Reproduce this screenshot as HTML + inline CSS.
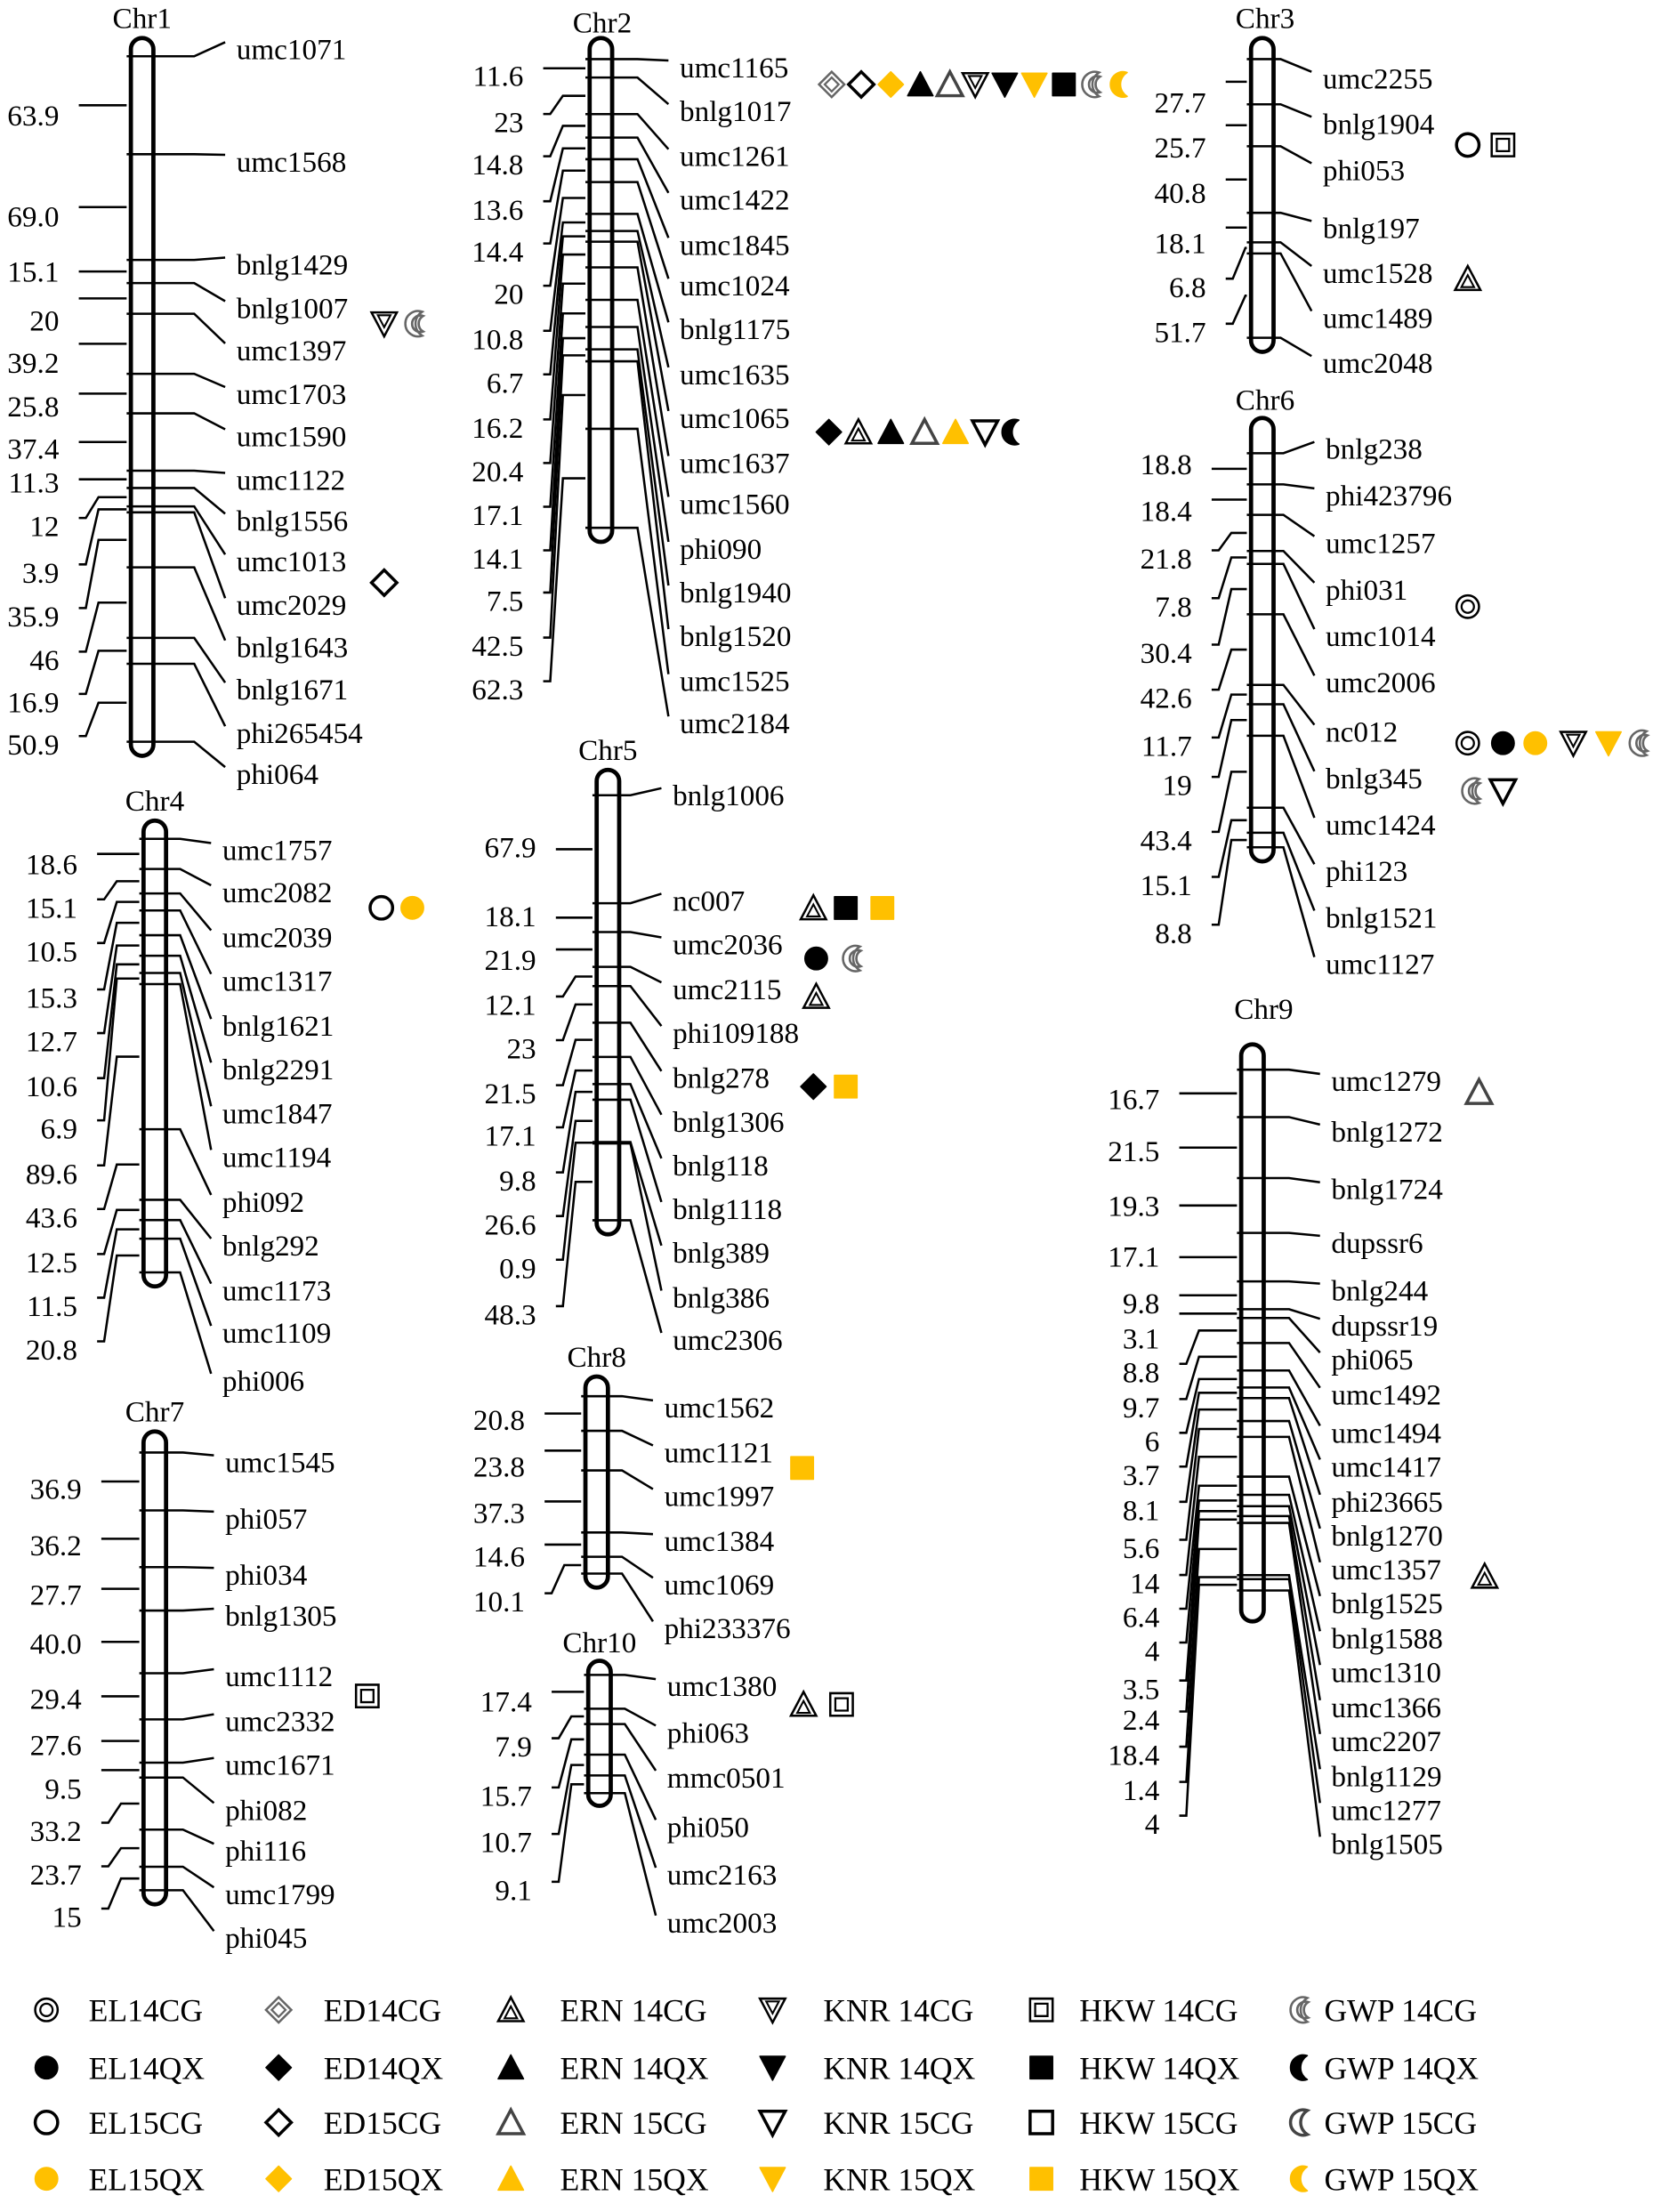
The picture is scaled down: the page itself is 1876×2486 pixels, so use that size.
<!DOCTYPE html>
<html><head><meta charset="utf-8"><style>
html,body{margin:0;padding:0;background:#fff;}
svg{display:block;}
text{font-family:"Liberation Serif",serif;fill:#000;}
</style></head><body>
<svg id="s" xmlns="http://www.w3.org/2000/svg" width="1876" height="2486" viewBox="0 0 1186 1571.6" preserveAspectRatio="none"></svg>
<script>
const S=document.getElementById('s');const NS='http://www.w3.org/2000/svg';
function el(t,a,p){const e=document.createElementNS(NS,t);for(const k in a)e.setAttribute(k,a[k]);(p||S).appendChild(e);return e;}
function txt(x,y,s,sz,anchor){const e=el('text',{x:x,y:y,'font-size':sz||21,'text-anchor':anchor||'start'});e.textContent=s;return e;}
const chrs=[
{n:'Chr1',cx:101,top:27,bot:537,ty:20,tx:101,f:40,l:527,lx:168,dx:42,
 m:['umc1071','umc1568','bnlg1429','bnlg1007','umc1397','umc1703','umc1590','umc1122','bnlg1556','umc1013','umc2029','bnlg1643','bnlg1671','phi265454','phi064'],
 my:[35,115,188,219,249,280,310,341,370,399,430,460,490,521,550],
 d:['63.9','69.0','15.1','20','39.2','25.8','37.4','11.3','12','3.9','35.9','46','16.9','50.9'],
 dy:[82,154,193,228,258,289,319,343,374,407,438,469,499,529]},
{n:'Chr2',cx:427,top:27,bot:385,ty:23,tx:428,f:42,l:375,lx:483,dx:372,
 m:['umc1165','bnlg1017','umc1261','umc1422','umc1845','umc1024','bnlg1175','umc1635','umc1065','umc1637','umc1560','phi090','bnlg1940','bnlg1520','umc1525','umc2184'],
 my:[48,79,111,142,174,203,234,266,297,329,358,390,421,452,484,514],
 d:['11.6','23','14.8','13.6','14.4','20','10.8','6.7','16.2','20.4','17.1','14.1','7.5','42.5','62.3'],
 dy:[54,87,117,149,179,209,241,272,304,335,366,397,427,459,490]},
{n:'Chr3',cx:897,top:27,bot:250,ty:20,tx:899,f:42,l:240,lx:940,dx:857,
 m:['umc2255','bnlg1904','phi053','bnlg197','umc1528','umc1489','umc2048'],
 my:[56,88,121,162,194,226,258],
 d:['27.7','25.7','40.8','18.1','6.8','51.7'],dy:[73,105,137,173,204,236]},
{n:'Chr4',cx:110,top:583,bot:914,ty:576,tx:110,f:596,l:904,lx:158,dx:55,
 m:['umc1757','umc2082','umc2039','umc1317','bnlg1621','bnlg2291','umc1847','umc1194','phi092','bnlg292','umc1173','umc1109','phi006'],
 my:[604,634,666,697,729,760,791,822,854,885,917,947,981],
 d:['18.6','15.1','10.5','15.3','12.7','10.6','6.9','89.6','43.6','12.5','11.5','20.8'],
 dy:[614,645,676,709,740,772,802,834,865,897,928,959]},
{n:'Chr5',cx:432,top:547,bot:877,ty:540,tx:432,f:565,l:867,lx:478,dx:381,
 m:['bnlg1006','nc007','umc2036','umc2115','phi109188','bnlg278','bnlg1306','bnlg118','bnlg1118','bnlg389','bnlg386','umc2306'],
 my:[565,640,671,703,734,766,797,828,859,890,922,952],
 d:['67.9','18.1','21.9','12.1','23','21.5','17.1','9.8','26.6','0.9','48.3'],
 dy:[602,651,682,714,745,777,807,839,870,901,934]},
{n:'Chr6',cx:897,top:297,bot:612,ty:291,tx:899,f:322,l:602,lx:942,dx:847,
 m:['bnlg238','phi423796','umc1257','phi031','umc1014','umc2006','nc012','bnlg345','umc1424','phi123','bnlg1521','umc1127'],
 my:[319,352,386,419,452,485,520,553,586,619,652,685],
 d:['18.8','18.4','21.8','7.8','30.4','42.6','11.7','19','43.4','15.1','8.8'],
 dy:[330,363,397,431,464,496,530,558,597,629,663]},
{n:'Chr7',cx:110,top:1017,bot:1353,ty:1010,tx:110,f:1032,l:1343,lx:160,dx:58,
 m:['umc1545','phi057','phi034','bnlg1305','umc1112','umc2332','umc1671','phi082','phi116','umc1799','phi045'],
 my:[1039,1079,1119,1148,1191,1223,1254,1286,1315,1346,1377],
 d:['36.9','36.2','27.7','40.0','29.4','27.6','9.5','33.2','23.7','15'],
 dy:[1058,1098,1133,1168,1207,1240,1271,1301,1332,1362]},
{n:'Chr8',cx:424,top:978,bot:1128,ty:971,tx:424,f:992,l:1118,lx:472,dx:373,
 m:['umc1562','umc1121','umc1997','umc1384','umc1069','phi233376'],
 my:[1000,1032,1063,1095,1126,1157],
 d:['20.8','23.8','37.3','14.6','10.1'],dy:[1009,1042,1075,1106,1138]},
{n:'Chr10',cx:426,top:1180,bot:1283,ty:1174,tx:426,f:1190,l:1274,lx:474,dx:378,
 m:['umc1380','phi063','mmc0501','phi050','umc2163','umc2003'],
 my:[1198,1231,1263,1298,1332,1366],
 d:['17.4','7.9','15.7','10.7','9.1'],dy:[1209,1241,1276,1309,1343]},
{n:'Chr9',cx:890,top:742,bot:1152,ty:724,tx:898,f:760,l:1130,lx:946,dx:824,
 m:['umc1279','bnlg1272','bnlg1724','dupssr6','bnlg244','dupssr19','phi065','umc1492','umc1494','umc1417','phi23665','bnlg1270','umc1357','bnlg1525','bnlg1588','umc1310','umc1366','umc2207','bnlg1129','umc1277','bnlg1505'],
 my:[768,804,845,883,917,942,966,991,1018,1042,1067,1091,1115,1139,1164,1188,1213,1237,1262,1286,1310],
 d:['16.7','21.5','19.3','17.1','9.8','3.1','8.8','9.7','6','3.7','8.1','5.6','14','6.4','4','3.5','2.4','18.4','1.4','4'],
 dy:[781,818,857,893,926,951,975,1000,1024,1048,1073,1100,1125,1149,1173,1200,1222,1247,1272,1296]}
];
const LW=1.6;
chrs.forEach(c=>{
  const vals=c.d.map(parseFloat);const tot=vals.reduce((a,b)=>a+b,0);
  const cy=[c.f];let acc=0;vals.forEach(v=>{acc+=v;cy.push(c.f+(c.l-c.f)*acc/tot);});
  el('rect',{x:c.cx-8,y:c.top,width:16,height:c.bot-c.top,rx:8,fill:'#fff',stroke:'#000','stroke-width':3});
  txt(c.tx,c.ty,c.n,21,'middle');
  c.m.forEach((nm,i)=>{
    const y=cy[i],ly=c.my[i]-5;
    const bx=Math.min(c.lx-30,c.cx+40);
    el('polyline',{points:`${c.cx-11},${y} ${bx},${y} ${c.lx-8},${ly}`,fill:'none',stroke:'#000','stroke-width':LW});
    txt(c.lx,c.my[i]+7,nm,21);
  });
  c.d.forEach((dv,i)=>{
    const mid=(cy[i]+cy[i+1])/2, ly=c.dy[i]-6;
    txt(c.dx,c.dy[i]+7,dv,21,'end');
    if(Math.abs(mid-ly)<12){
      el('line',{x1:c.dx+14,y1:mid,x2:c.cx-11,y2:mid,stroke:'#000','stroke-width':LW});
    } else {
      el('polyline',{points:`${c.dx+14},${ly} ${c.dx+19},${ly} ${c.dx+28},${mid} ${c.cx-11},${mid}`,fill:'none',stroke:'#000','stroke-width':LW});
    }
  });
});
const OR='#FFC000';
const shapes={
 EL:'M -8 0 A 8 8 0 1 0 8 0 A 8 8 0 1 0 -8 0 Z',
 ED:'M 0 -9 L 9 0 L 0 9 L -9 0 Z',
 ERN:'M 0 -9 L 9 8 L -9 8 Z',
 KNR:'M -9 -8 L 9 -8 L 0 9 Z',
 HKW:'M -8 -8 L 8 -8 L 8 8 L -8 8 Z',
 GWP:'M 4 -8.5 A 9 9 0 1 0 4 8.5 A 10 10 0 0 1 4 -8.5 Z'
};
function sym(code,x,y){
  const m=code.match(/^([A-Z]+)(\d\d)(CG|QX)$/);const t=m[1],yr=m[2],v=m[3];
  const g=el('g',{transform:`translate(${x},${y})`});
  const p=shapes[t];
  if(v==='QX'){
    const col=yr==='14'?'#000':OR;
    el('path',{d:p,fill:col,stroke:col,'stroke-width':1,'stroke-linejoin':'round'},g);
  } else if(yr==='15'){
    const col=(t==='GWP'||t==='ERN')?'#444':'#000';
    el('path',{d:p,fill:'none',stroke:col,'stroke-width':2.2,'stroke-linejoin':'miter'},g);
  } else {
    const col=(t==='ED'||t==='GWP')?'#666':'#000';
    el('path',{d:p,fill:'none',stroke:col,'stroke-width':1.6},g);
    const ig=el('g',{transform:t==='ERN'?'translate(0,2) scale(0.5)':t==='KNR'?'translate(0,-2) scale(0.5)':t==='GWP'?'translate(2,0) scale(0.65)':'scale(0.55)'},g);
    el('path',{d:p,fill:'none',stroke:col,'stroke-width':2.6},ig);
  }
}
const syms=[
[230,[[273,'KNR14CG'],[296,'GWP14CG']]],
[414,[[273,'ED15CG']]],
[60,[[591,'ED14CG'],[612,'ED15CG'],[633,'ED15QX'],[654,'ERN14QX'],[675,'ERN15CG'],[693,'KNR14CG'],[714,'KNR14QX'],[735,'KNR15QX'],[756,'HKW14QX'],[777,'GWP14CG'],[797,'GWP15QX']]],
[307,[[589,'ED14QX'],[610,'ERN14CG'],[633,'ERN14QX'],[657,'ERN15CG'],[679,'ERN15QX'],[700,'KNR15CG'],[720,'GWP14QX']]],
[103,[[1043,'EL15CG'],[1068,'HKW14CG']]],
[198,[[1043,'ERN14CG']]],
[431,[[1043,'EL14CG']]],
[528,[[1043,'EL14CG'],[1068,'EL14QX'],[1091,'EL15QX'],[1118,'KNR14CG'],[1143,'KNR15QX'],[1166,'GWP14CG']]],
[562,[[1047,'GWP14CG'],[1068,'KNR15CG']]],
[645,[[271,'EL15CG'],[293,'EL15QX']]],
[645.1,[[578,'ERN14CG'],[601,'HKW14QX'],[627,'HKW15QX']]],
[681,[[580,'EL14QX'],[607,'GWP14CG']]],
[708,[[580,'ERN14CG']]],
[772,[[578,'ED14QX'],[601,'HKW15QX']]],
[776,[[1051,'ERN15CG']]],
[1120,[[1055,'ERN14CG']]],
[1205,[[261,'HKW14CG']]],
[1043,[[570,'HKW15QX']]],
[1211,[[571,'ERN14CG'],[598,'HKW14CG']]]
];
syms.forEach(([y,l])=>l.forEach(([x,c])=>sym(c,x,y)));
const cols=[[33,63,'EL',''],[198,230,'ED',''],[363,398,'ERN',' '],[549,585,'KNR',' '],[740,767,'HKW',' '],[925,941,'GWP',' ']];
const rows=[[1428,'14CG'],[1469,'14QX'],[1508,'15CG'],[1548,'15QX']];
rows.forEach(([y,v])=>cols.forEach(([sx,tx,t,sp])=>{sym(t+v,sx,y);txt(tx,y+8,t+sp+v,22.5);}));
</script>
</body></html>
